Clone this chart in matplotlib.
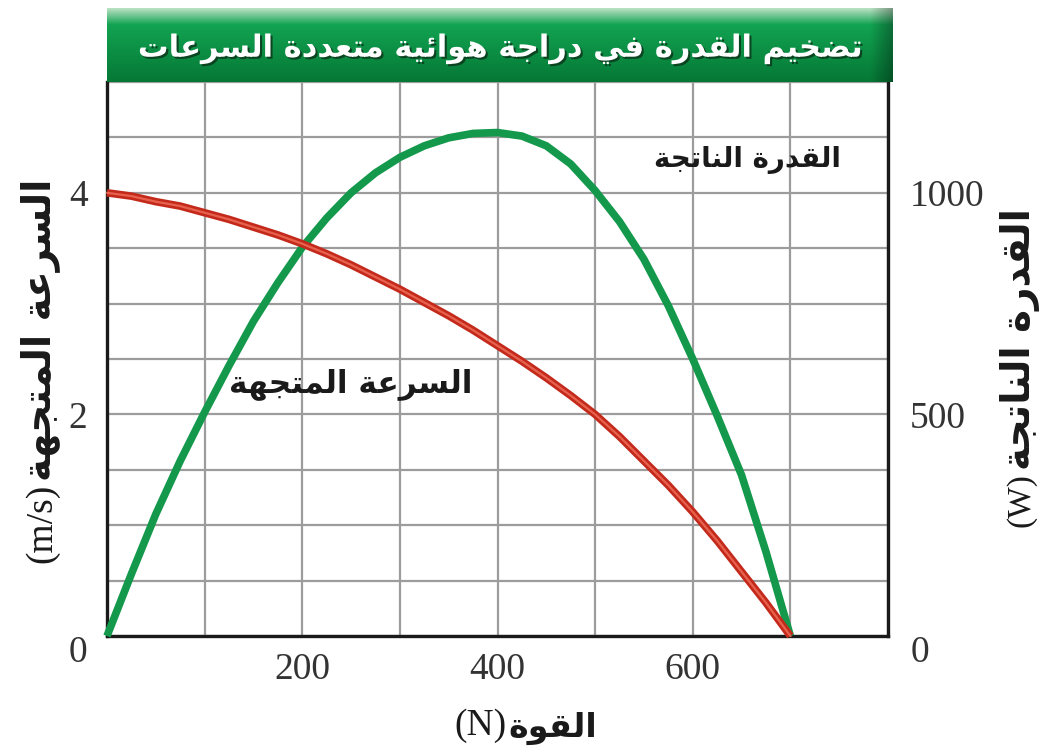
import numpy as np
import matplotlib
matplotlib.use("Agg")
import matplotlib.pyplot as plt
import matplotlib.patheffects as pe

# Values
force_n = [0, 25, 50, 75, 100, 125, 150, 175, 200, 225, 250, 275, 300, 325, 350,
           375, 400, 425, 450, 475, 500, 525, 550, 575, 600, 625, 650, 675, 700]
speed_ms = [4.0, 3.97, 3.92, 3.88, 3.82, 3.76, 3.69, 3.62, 3.54, 3.45, 3.35, 3.24, 3.13, 3.01, 2.89,
            2.76, 2.62, 2.48, 2.33, 2.17, 2.0, 1.80, 1.58, 1.36, 1.12, 0.86, 0.58, 0.30, 0.0]
power_w = [0, 140, 275, 395, 505, 610, 710, 797, 877, 943, 1000, 1045, 1080, 1106, 1124,
           1134, 1136, 1128, 1106, 1065, 1005, 935, 850, 745, 625, 497, 363, 190, 0]

x_ticks = [200, 400, 600]
speed_ticks = [0, 2, 4]
power_ticks = [0, 500, 1000]

title_ar = "تضخيم القدرة في دراجة هوائية متعددة السرعات"
speed_ar = "السرعة المتجهة"
power_ar = "القدرة الناتجة"
force_ar = "القوة"

# Arabic presentation forms: isolated, final, initial, medial
FORMS = {
    "\u0626": ("\uFE89", "\uFE8A", "\uFE8B", "\uFE8C"),
    "\u0627": ("\uFE8D", "\uFE8E", None, None),
    "\u0628": ("\uFE8F", "\uFE90", "\uFE91", "\uFE92"),
    "\u0629": ("\uFE93", "\uFE94", None, None),
    "\u062A": ("\uFE95", "\uFE96", "\uFE97", "\uFE98"),
    "\u062C": ("\uFE9D", "\uFE9E", "\uFE9F", "\uFEA0"),
    "\u062D": ("\uFEA1", "\uFEA2", "\uFEA3", "\uFEA4"),
    "\u062E": ("\uFEA5", "\uFEA6", "\uFEA7", "\uFEA8"),
    "\u062F": ("\uFEA9", "\uFEAA", None, None),
    "\u0631": ("\uFEAD", "\uFEAE", None, None),
    "\u0633": ("\uFEB1", "\uFEB2", "\uFEB3", "\uFEB4"),
    "\u0636": ("\uFEBD", "\uFEBE", "\uFEBF", "\uFEC0"),
    "\u0639": ("\uFEC9", "\uFECA", "\uFECB", "\uFECC"),
    "\u0641": ("\uFED1", "\uFED2", "\uFED3", "\uFED4"),
    "\u0642": ("\uFED5", "\uFED6", "\uFED7", "\uFED8"),
    "\u0644": ("\uFEDD", "\uFEDE", "\uFEDF", "\uFEE0"),
    "\u0645": ("\uFEE1", "\uFEE2", "\uFEE3", "\uFEE4"),
    "\u0646": ("\uFEE5", "\uFEE6", "\uFEE7", "\uFEE8"),
    "\u0647": ("\uFEE9", "\uFEEA", "\uFEEB", "\uFEEC"),
    "\u0648": ("\uFEED", "\uFEEE", None, None),
    "\u064A": ("\uFEF1", "\uFEF2", "\uFEF3", "\uFEF4"),
}


def shape_ar(text):
    # join letters and return them in visual (left-to-right) order
    tokens = []
    i = 0
    while i < len(text):
        if text[i] == "\u0644" and i + 1 < len(text) and text[i + 1] == "\u0627":
            tokens.append("LA")
            i += 2
        else:
            tokens.append(text[i])
            i += 1

    def joins_next(t):
        return t in FORMS and FORMS[t][2] is not None

    def is_letter(t):
        return t in FORMS or t == "LA"

    out = []
    for k, t in enumerate(tokens):
        prev = tokens[k - 1] if k > 0 else None
        nxt = tokens[k + 1] if k + 1 < len(tokens) else None
        cp = prev is not None and joins_next(prev)
        cn = joins_next(t) and nxt is not None and is_letter(nxt)
        if t == "LA":
            out.append("\uFEFC" if cp else "\uFEFB")
        elif t not in FORMS:
            out.append(t)
        else:
            iso, fin, ini, med = FORMS[t]
            if cp and cn:
                out.append(med)
            elif cp:
                out.append(fin)
            elif cn:
                out.append(ini)
            else:
                out.append(iso)
    return "".join(reversed(out))


W, H = 1040, 751
fig = plt.figure(figsize=(W / 100, H / 100), dpi=100)
fig.patch.set_facecolor("white")


def fx(px):
    return px / W


def fy(py):
    return 1 - py / H


ax = fig.add_axes([fx(107), fy(636), fx(888) - fx(107), fy(82) - fy(636)])
ax.set_xlim(0, 800)
ax.set_ylim(0, 5)
ax.set_xticks(x_ticks)
ax.set_xticks(np.arange(0, 801, 100), minor=True)
ax.set_yticks(speed_ticks)
ax.set_yticks(np.arange(0, 5.01, 0.5), minor=True)
ax.grid(True, which="both", color="#9c9c9c", linewidth=1.6)
ax.set_axisbelow(True)
ax.tick_params(which="both", length=0)
ax.tick_params(axis="y", pad=14, labelsize=27, labelcolor="#333333")
ax.tick_params(axis="x", pad=12, labelsize=27, labelcolor="#333333")
for lab in ax.get_xticklabels() + ax.get_yticklabels():
    lab.set_fontfamily("Liberation Serif")
ax.yaxis.get_major_ticks()[0].label1.set_verticalalignment("top")
for s in ax.spines.values():
    s.set_linewidth(2.4)
    s.set_color("#1a1a1a")
ax.spines["top"].set_visible(False)

# power on the right axis
axp = ax.twinx()
axp.set_ylim(0, 1250)
axp.set_yticks(power_ticks)
axp.tick_params(length=0, pad=16, labelsize=27, labelcolor="#333333")
for lab in axp.get_yticklabels():
    lab.set_fontfamily("Liberation Serif")
axp.yaxis.get_major_ticks()[0].label2.set_verticalalignment("top")
for s in axp.spines.values():
    s.set_visible(False)
axp.plot(force_n, power_w, color="#14994c", linewidth=5.5, solid_capstyle="butt",
         solid_joinstyle="round", clip_on=False)

# speed drawn on top
axv = ax.twinx()
axv.set_ylim(0, 5)
axv.yaxis.set_visible(False)
for s in axv.spines.values():
    s.set_visible(False)
axv.plot(force_n, speed_ms, color="#c42a1c", linewidth=5.5, solid_capstyle="butt",
         solid_joinstyle="round", clip_on=False)
axv.plot(force_n, speed_ms, color="#f0705a", linewidth=1.6, alpha=0.8,
         solid_joinstyle="round", clip_on=False)

# curve labels
axv.text(250, 2.27, shape_ar(speed_ar), family="DejaVu Sans", weight="bold",
         fontsize=22.5, ha="center", va="center", color="#1a1a1a")
axv.text(656, 4.3, shape_ar(power_ar), family="DejaVu Sans", weight="bold",
         fontsize=20, ha="center", va="center", color="#1a1a1a")

# green title banner
bx0, bx1, by0, by1 = 107, 893, 8, 82
bax = fig.add_axes([fx(bx0), fy(by1), fx(bx1) - fx(bx0), fy(by0) - fy(by1)])
bax.axis("off")
rows = 60
cols = 400
t = np.linspace(0, 1, rows)[:, None]
top = np.array([0.72, 0.88, 0.76])
mid = np.array([0.07, 0.64, 0.32])
bot = np.array([0.02, 0.47, 0.21])
grad = np.where(t < 0.22, 1.0, 0.0)[..., None] * (top + (mid - top) * (t / 0.22)[..., None]) + \
    np.where(t >= 0.22, 1.0, 0.0)[..., None] * (mid + (bot - mid) * ((t - 0.22) / 0.78)[..., None])
img = np.repeat(grad, cols, axis=1)
edge = np.clip((np.arange(cols) - (cols - 12)) / 12, 0, 1)[None, :, None]
img = img * (1 - 0.35 * edge)
bax.imshow(img, aspect="auto", extent=[0, 1, 0, 1], interpolation="bilinear")
bax.set_xlim(0, 1)
bax.set_ylim(0, 1)
bax.text(0.5, 0.45, shape_ar(title_ar), family="DejaVu Sans", weight="bold", fontsize=22,
         color="white", ha="center", va="center",
         path_effects=[pe.SimplePatchShadow(offset=(1.5, -1.5), shadow_rgbFace="#0b3d1e", alpha=0.9),
                       pe.Normal()])

# axis titles
lab_kw = dict(family="DejaVu Sans", weight="bold", fontsize=28, color="#1a1a1a")
unit_kw = dict(family="Liberation Serif", fontsize=27, color="#1a1a1a")
fig.text(fx(40), fy(481), shape_ar(speed_ar), rotation=90, ha="center", va="bottom", **lab_kw)
fig.text(fx(42), fy(484), "(m/s)", rotation=90, ha="center", va="top", **unit_kw)
fig.text(fx(1020), fy(470), shape_ar(power_ar), rotation=90, ha="center", va="bottom", **lab_kw)
fig.text(fx(1021), fy(473), "(W)", rotation=90, ha="center", va="top",
         **dict(unit_kw, fontsize=24))
fig.text(fx(508), fy(728), shape_ar(force_ar), ha="left", va="center",
         **dict(lab_kw, fontsize=24))
fig.text(fx(506), fy(726), "(N)", ha="right", va="center", **unit_kw)

fig.savefig("out.png", dpi=100)
